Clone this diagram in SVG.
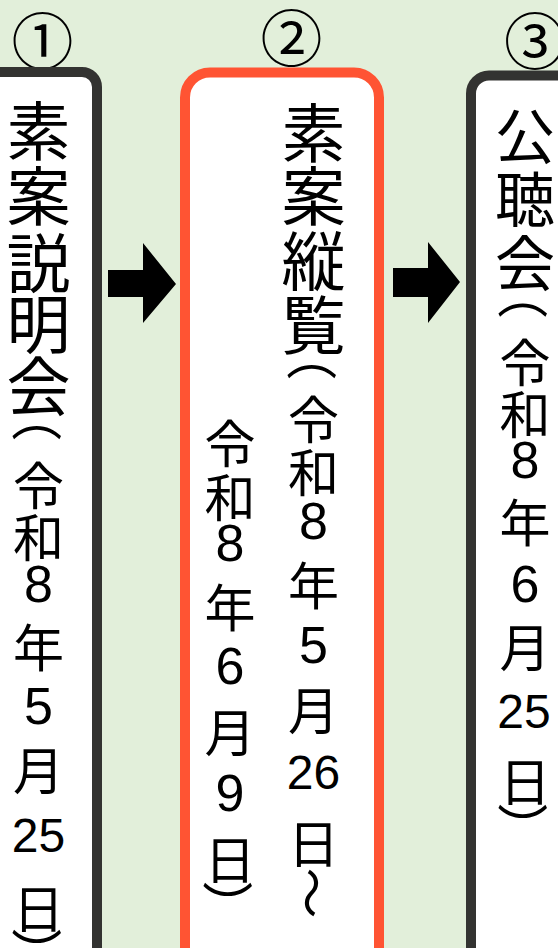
<svg xmlns="http://www.w3.org/2000/svg" width="558" height="948" viewBox="0 0 558 948">
<style>
.bg{fill:#E2EFDA}
.box{fill:#FFFFFF;stroke-width:10}
.dark{stroke:#333331}
.red{stroke:#FF5433}
text{fill:#000;text-anchor:middle;dominant-baseline:central;font-family:"Noto Sans CJK JP","Liberation Sans",sans-serif}
.num{font-size:62px}
.t1{font-size:64px}
.t3{font-size:60px}
.d{font-size:51px}
.dg{font-family:"Liberation Sans","Noto Sans CJK JP",sans-serif;font-size:52px}
.dg2{font-family:"Liberation Sans","Noto Sans CJK JP",sans-serif;font-size:48px}
.arrow{fill:#000}
</style>
<rect class="bg" x="0" y="0" width="558" height="948"/>
<g id="labels">
<text class="num" x="42.5" y="38">①</text>
<text class="num" x="291.5" y="35">②</text>
<text class="num" x="535" y="38">③</text>
</g>
<g id="node1">
<rect class="box dark" x="-100" y="72" width="197" height="1000" rx="15"/>
<text class="t1" x="38.5" y="127">素</text>
<text class="t1" x="38.5" y="191.5">案</text>
<text class="t1" x="38.5" y="259">説</text>
<text class="t1" x="38.5" y="320">明</text>
<text class="t1" x="38.5" y="382">会</text>
<text class="d" x="38.5" y="416" transform="rotate(90 38.5 416)">（</text>
<text class="d" x="38.5" y="483">令</text>
<text class="d" x="38.5" y="535">和</text>
<text class="dg" x="38.5" y="583.5">8</text>
<text class="d" x="38.5" y="645">年</text>
<text class="dg" x="38.5" y="706">5</text>
<text class="d" x="38.5" y="768">月</text>
<text class="dg2" x="38.5" y="835.5">25</text>
<text class="d" x="38.5" y="906">日</text>
<text class="d" x="38.5" y="953" transform="rotate(90 38.5 953)">）</text>
</g>
<g id="node2">
<rect class="box red" x="185" y="72.5" width="194" height="1000" rx="25"/>
<text class="t1" x="313.5" y="128.5">素</text>
<text class="t1" x="313.5" y="191.5">案</text>
<text class="t1" x="313.5" y="256.5">縦</text>
<text class="t1" x="313.5" y="320.5">覧</text>
<text class="d" x="313.5" y="355" transform="rotate(90 313.5 355)">（</text>
<text class="d" x="313.5" y="416.5">令</text>
<text class="d" x="313.5" y="470">和</text>
<text class="dg" x="313.5" y="521">8</text>
<text class="d" x="313.5" y="582.5">年</text>
<text class="dg" x="313.5" y="645">5</text>
<text class="d" x="313.5" y="707.5">月</text>
<text class="dg2" x="313.5" y="772.5">26</text>
<text class="d" x="313.5" y="841">日</text>
<text class="d" x="313.5" y="893" transform="rotate(90 313.5 893)">～</text>
<text class="d" x="230" y="441">令</text>
<text class="d" x="230" y="495">和</text>
<text class="dg" x="230" y="542.5">8</text>
<text class="d" x="230" y="604.5">年</text>
<text class="dg" x="230" y="665.5">6</text>
<text class="d" x="230" y="729.5">月</text>
<text class="dg" x="230" y="792.5">9</text>
<text class="d" x="230" y="857">日</text>
<text class="d" x="230" y="906" transform="rotate(90 230 906)">）</text>
</g>
<g id="node3">
<rect class="box dark" x="471" y="75.5" width="200" height="1000" rx="18"/>
<text class="t3" x="525" y="132">公</text>
<text class="t3" x="525" y="195">聴</text>
<text class="t3" x="525" y="259.5">会</text>
<text class="d" x="525" y="293.5" transform="rotate(90 525 293.5)">（</text>
<text class="d" x="525" y="360">令</text>
<text class="d" x="525" y="412">和</text>
<text class="dg" x="525" y="460">8</text>
<text class="d" x="525" y="520">年</text>
<text class="dg" x="525" y="583.5">6</text>
<text class="d" x="525" y="644.5">月</text>
<text class="dg2" x="524" y="711.5">25</text>
<text class="d" x="525" y="779">日</text>
<text class="d" x="525" y="828" transform="rotate(90 525 828)">）</text>
</g>
<g id="connectors">
<polygon class="arrow" points="108,270 143,270 143,243 176,284 143,323 143,297 108,297"/>
<polygon class="arrow" points="393,268 428,268 428,242 460,282 428,323 428,297 393,297"/>
</g>
</svg>
